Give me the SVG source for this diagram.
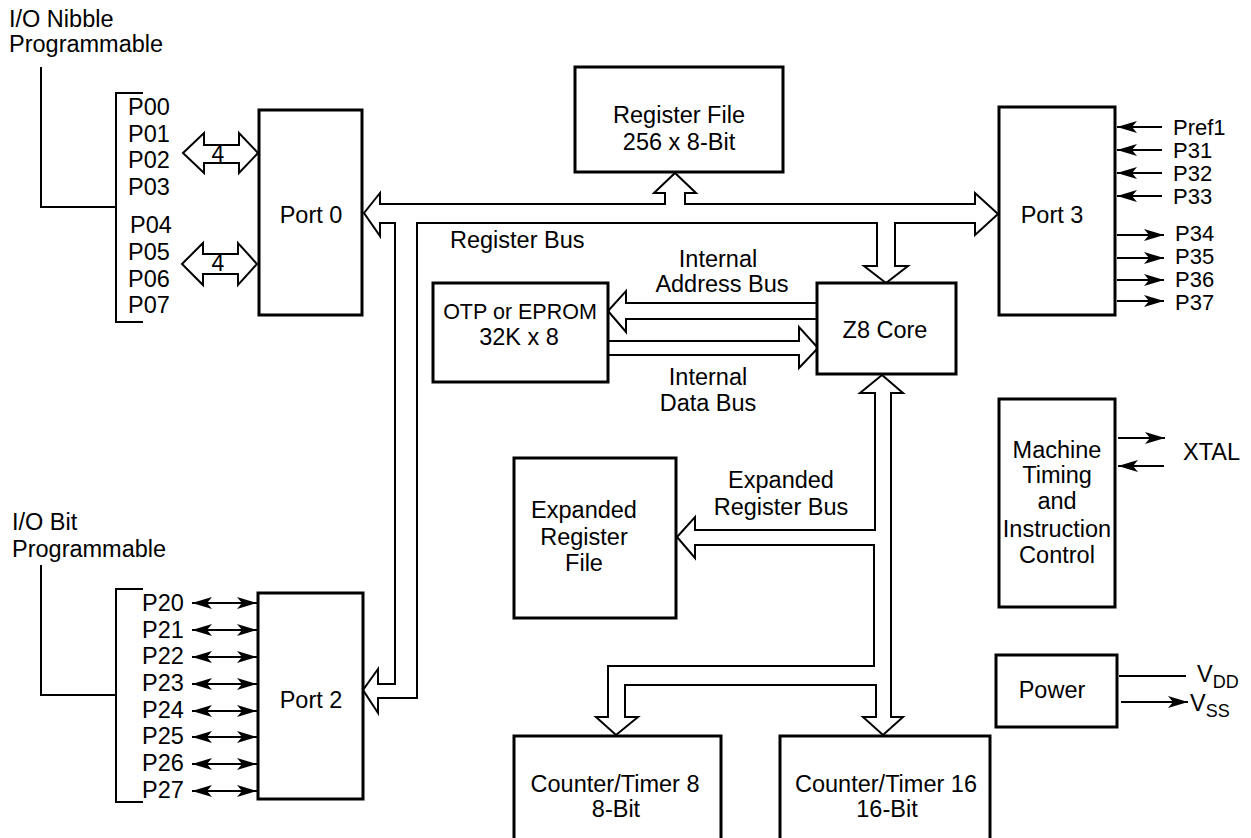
<svg xmlns="http://www.w3.org/2000/svg" width="1251" height="838" viewBox="0 0 1251 838">
<style>
.box{fill:#fff;stroke:#000;stroke-width:3}
.bus{fill:#fff;stroke:#000;stroke-width:2;stroke-linejoin:miter}
.ln{fill:none;stroke:#000;stroke-width:2}
.ar{fill:none;stroke:#000;stroke-width:2}
text{font-family:"Liberation Sans",Arial,Helvetica,sans-serif;font-size:23.5px;fill:#000}
.c{text-anchor:middle}
.s{font-size:21.5px}
.p3{font-size:22px}
</style>
<defs>
<marker id="ah" markerUnits="userSpaceOnUse" markerWidth="22" markerHeight="14" refX="20" refY="6" orient="auto-start-reverse">
<path d="M0,0 L20,6 L0,12 L5,6 z" fill="#000"/>
</marker>
</defs>
<rect width="1251" height="838" fill="#fff"/>

<g id="connectors">
<path class="bus" d="M364,213 L380,193 L380,204 L665,204 L665,193 L654,193 L675,173 L696,193 L685,193 L685,204 L975,204 L975,193 L998,214 L975,235 L975,223 L895,223 L895,266 L908,266 L886,283 L864,266 L877,266 L877,223 L417,223 L417,698 L378,698 L378,713 L363,690 L378,669 L378,684 L395,684 L395,223 L380,223 L380,236 Z"/>
<path class="bus" d="M817,303 L626,303 L626,291 L608,311 L626,332 L626,319 L817,319"/>
<path class="bus" d="M608,341 L799,341 L799,327 L818,348 L799,368 L799,355 L608,355"/>
<path class="bus" d="M882,375 L903,393 L891,393 L891,717 L903,717 L883,735 L863,717 L876,717 L876,685 L625,685 L625,717 L638,717 L616,735 L596,717 L608,717 L608,666 L874,666 L874,545 L695,545 L695,558 L677,537 L695,517 L695,530 L875,530 L875,393 L860,393 Z"/>
<path class="bus" d="M183,153 L204,133 L204,145 L239,145 L239,133 L258,153 L239,173 L239,163 L204,163 L204,173 Z"/>
<path class="bus" d="M182,264 L203,243 L203,254 L238,254 L238,243 L257,264 L238,285 L238,274 L203,274 L203,285 Z"/>
<path class="ln" d="M41,67 L41,207 L116,207 M143,93 L116,93 L116,322 L143,322"/>
<path class="ln" d="M41,565 L41,695 L116,695 M143,589 L116,589 L116,802 L143,802"/>
<g class="ar">
<line x1="192" y1="603" x2="257" y2="603" marker-start="url(#ah)" marker-end="url(#ah)"/>
<line x1="192" y1="630" x2="257" y2="630" marker-start="url(#ah)" marker-end="url(#ah)"/>
<line x1="192" y1="657" x2="257" y2="657" marker-start="url(#ah)" marker-end="url(#ah)"/>
<line x1="192" y1="684" x2="257" y2="684" marker-start="url(#ah)" marker-end="url(#ah)"/>
<line x1="192" y1="711" x2="257" y2="711" marker-start="url(#ah)" marker-end="url(#ah)"/>
<line x1="192" y1="737" x2="257" y2="737" marker-start="url(#ah)" marker-end="url(#ah)"/>
<line x1="192" y1="764" x2="257" y2="764" marker-start="url(#ah)" marker-end="url(#ah)"/>
<line x1="192" y1="791" x2="257" y2="791" marker-start="url(#ah)" marker-end="url(#ah)"/>
</g>
<g class="ar">
<line x1="1162" y1="127" x2="1117" y2="127" marker-end="url(#ah)"/>
<line x1="1162" y1="150" x2="1117" y2="150" marker-end="url(#ah)"/>
<line x1="1162" y1="173" x2="1117" y2="173" marker-end="url(#ah)"/>
<line x1="1162" y1="196" x2="1117" y2="196" marker-end="url(#ah)"/>
<line x1="1117" y1="235" x2="1164" y2="235" marker-end="url(#ah)"/>
<line x1="1117" y1="258" x2="1164" y2="258" marker-end="url(#ah)"/>
<line x1="1117" y1="280" x2="1164" y2="280" marker-end="url(#ah)"/>
<line x1="1117" y1="301" x2="1164" y2="301" marker-end="url(#ah)"/>
</g>
<g class="ar">
<line x1="1118" y1="438" x2="1165" y2="438" marker-end="url(#ah)"/>
<line x1="1164" y1="466" x2="1118" y2="466" marker-end="url(#ah)"/>
</g>
<line class="ln" x1="1119" y1="676" x2="1186" y2="676"/>
<line class="ar" x1="1121" y1="702" x2="1188" y2="702" marker-end="url(#ah)"/>
</g>

<g id="port0">
<rect class="box" x="259" y="110" width="103" height="205"/>
<text class="c" x="311" y="223">Port 0</text>
</g>
<g id="regfile">
<rect class="box" x="575" y="67" width="208" height="105"/>
<text class="c" x="679" y="123">Register File</text>
<text class="c" x="679" y="150">256 x 8-Bit</text>
</g>
<g id="port3">
<rect class="box" x="999" y="107" width="116" height="208"/>
<text class="c" x="1052" y="223">Port 3</text>
</g>
<g id="z8core">
<rect class="box" x="817" y="283" width="139" height="91"/>
<text class="c" x="885" y="338">Z8 Core</text>
</g>
<g id="otp">
<rect class="box" x="433" y="283" width="175" height="99"/>
<text class="c s" x="520" y="319">OTP or EPROM</text>
<text class="c" x="519" y="345">32K x 8</text>
</g>
<g id="port2">
<rect class="box" x="258" y="593" width="105" height="206"/>
<text class="c" x="311" y="708">Port 2</text>
</g>
<g id="expreg">
<rect class="box" x="514" y="458" width="162" height="160"/>
<text class="c" x="584" y="518">Expanded</text>
<text class="c" x="584" y="545">Register</text>
<text class="c" x="584" y="571">File</text>
</g>
<g id="timing">
<rect class="box" x="999" y="399" width="116" height="208"/>
<text class="c" x="1057" y="458">Machine</text>
<text class="c" x="1057" y="483">Timing</text>
<text class="c" x="1057" y="509">and</text>
<text class="c" x="1057" y="537">Instruction</text>
<text class="c" x="1057" y="563">Control</text>
</g>
<g id="power">
<rect class="box" x="996" y="655" width="121" height="72"/>
<text class="c" x="1052" y="698">Power</text>
</g>
<g id="ct8">
<rect class="box" x="514" y="736" width="207" height="130"/>
<text class="c" x="615" y="792">Counter/Timer 8</text>
<text class="c" x="616" y="817">8-Bit</text>
</g>
<g id="ct16">
<rect class="box" x="780" y="736" width="210" height="130"/>
<text class="c" x="886" y="792">Counter/Timer 16</text>
<text class="c" x="887" y="817">16-Bit</text>
</g>

<g id="labels">
<text x="9" y="27">I/O Nibble</text>
<text x="9" y="52">Programmable</text>
<text x="12" y="530">I/O Bit</text>
<text x="12" y="557">Programmable</text>
<text x="128" y="115">P00</text>
<text x="128" y="142">P01</text>
<text x="128" y="168">P02</text>
<text x="128" y="195">P03</text>
<text x="130" y="233">P04</text>
<text x="128" y="260">P05</text>
<text x="128" y="287">P06</text>
<text x="128" y="313">P07</text>
<text class="c" x="218" y="162" style="font-size:23px">4</text>
<text class="c" x="218" y="271" style="font-size:23px">4</text>
<text x="142" y="611">P20</text>
<text x="142" y="638">P21</text>
<text x="142" y="664">P22</text>
<text x="142" y="691">P23</text>
<text x="142" y="718">P24</text>
<text x="142" y="744">P25</text>
<text x="142" y="771">P26</text>
<text x="142" y="798">P27</text>
<text class="p3" x="1173" y="135">Pref1</text>
<text class="p3" x="1173" y="158">P31</text>
<text class="p3" x="1173" y="181">P32</text>
<text class="p3" x="1173" y="204">P33</text>
<text class="p3" x="1175" y="241">P34</text>
<text class="p3" x="1175" y="264">P35</text>
<text class="p3" x="1175" y="287">P36</text>
<text class="p3" x="1175" y="310">P37</text>
<text x="1183" y="460">XTAL</text>
<text x="1197" y="682">V<tspan font-size="18" dy="6">DD</tspan></text>
<text x="1190" y="711">V<tspan font-size="18" dy="6">SS</tspan></text>
<text x="450" y="248">Register Bus</text>
<text class="c" x="718" y="267">Internal</text>
<text class="c" x="722" y="292">Address Bus</text>
<text class="c" x="708" y="385">Internal</text>
<text class="c" x="708" y="411">Data Bus</text>
<text class="c" x="781" y="488">Expanded</text>
<text class="c" x="781" y="515">Register Bus</text>
</g>
</svg>
